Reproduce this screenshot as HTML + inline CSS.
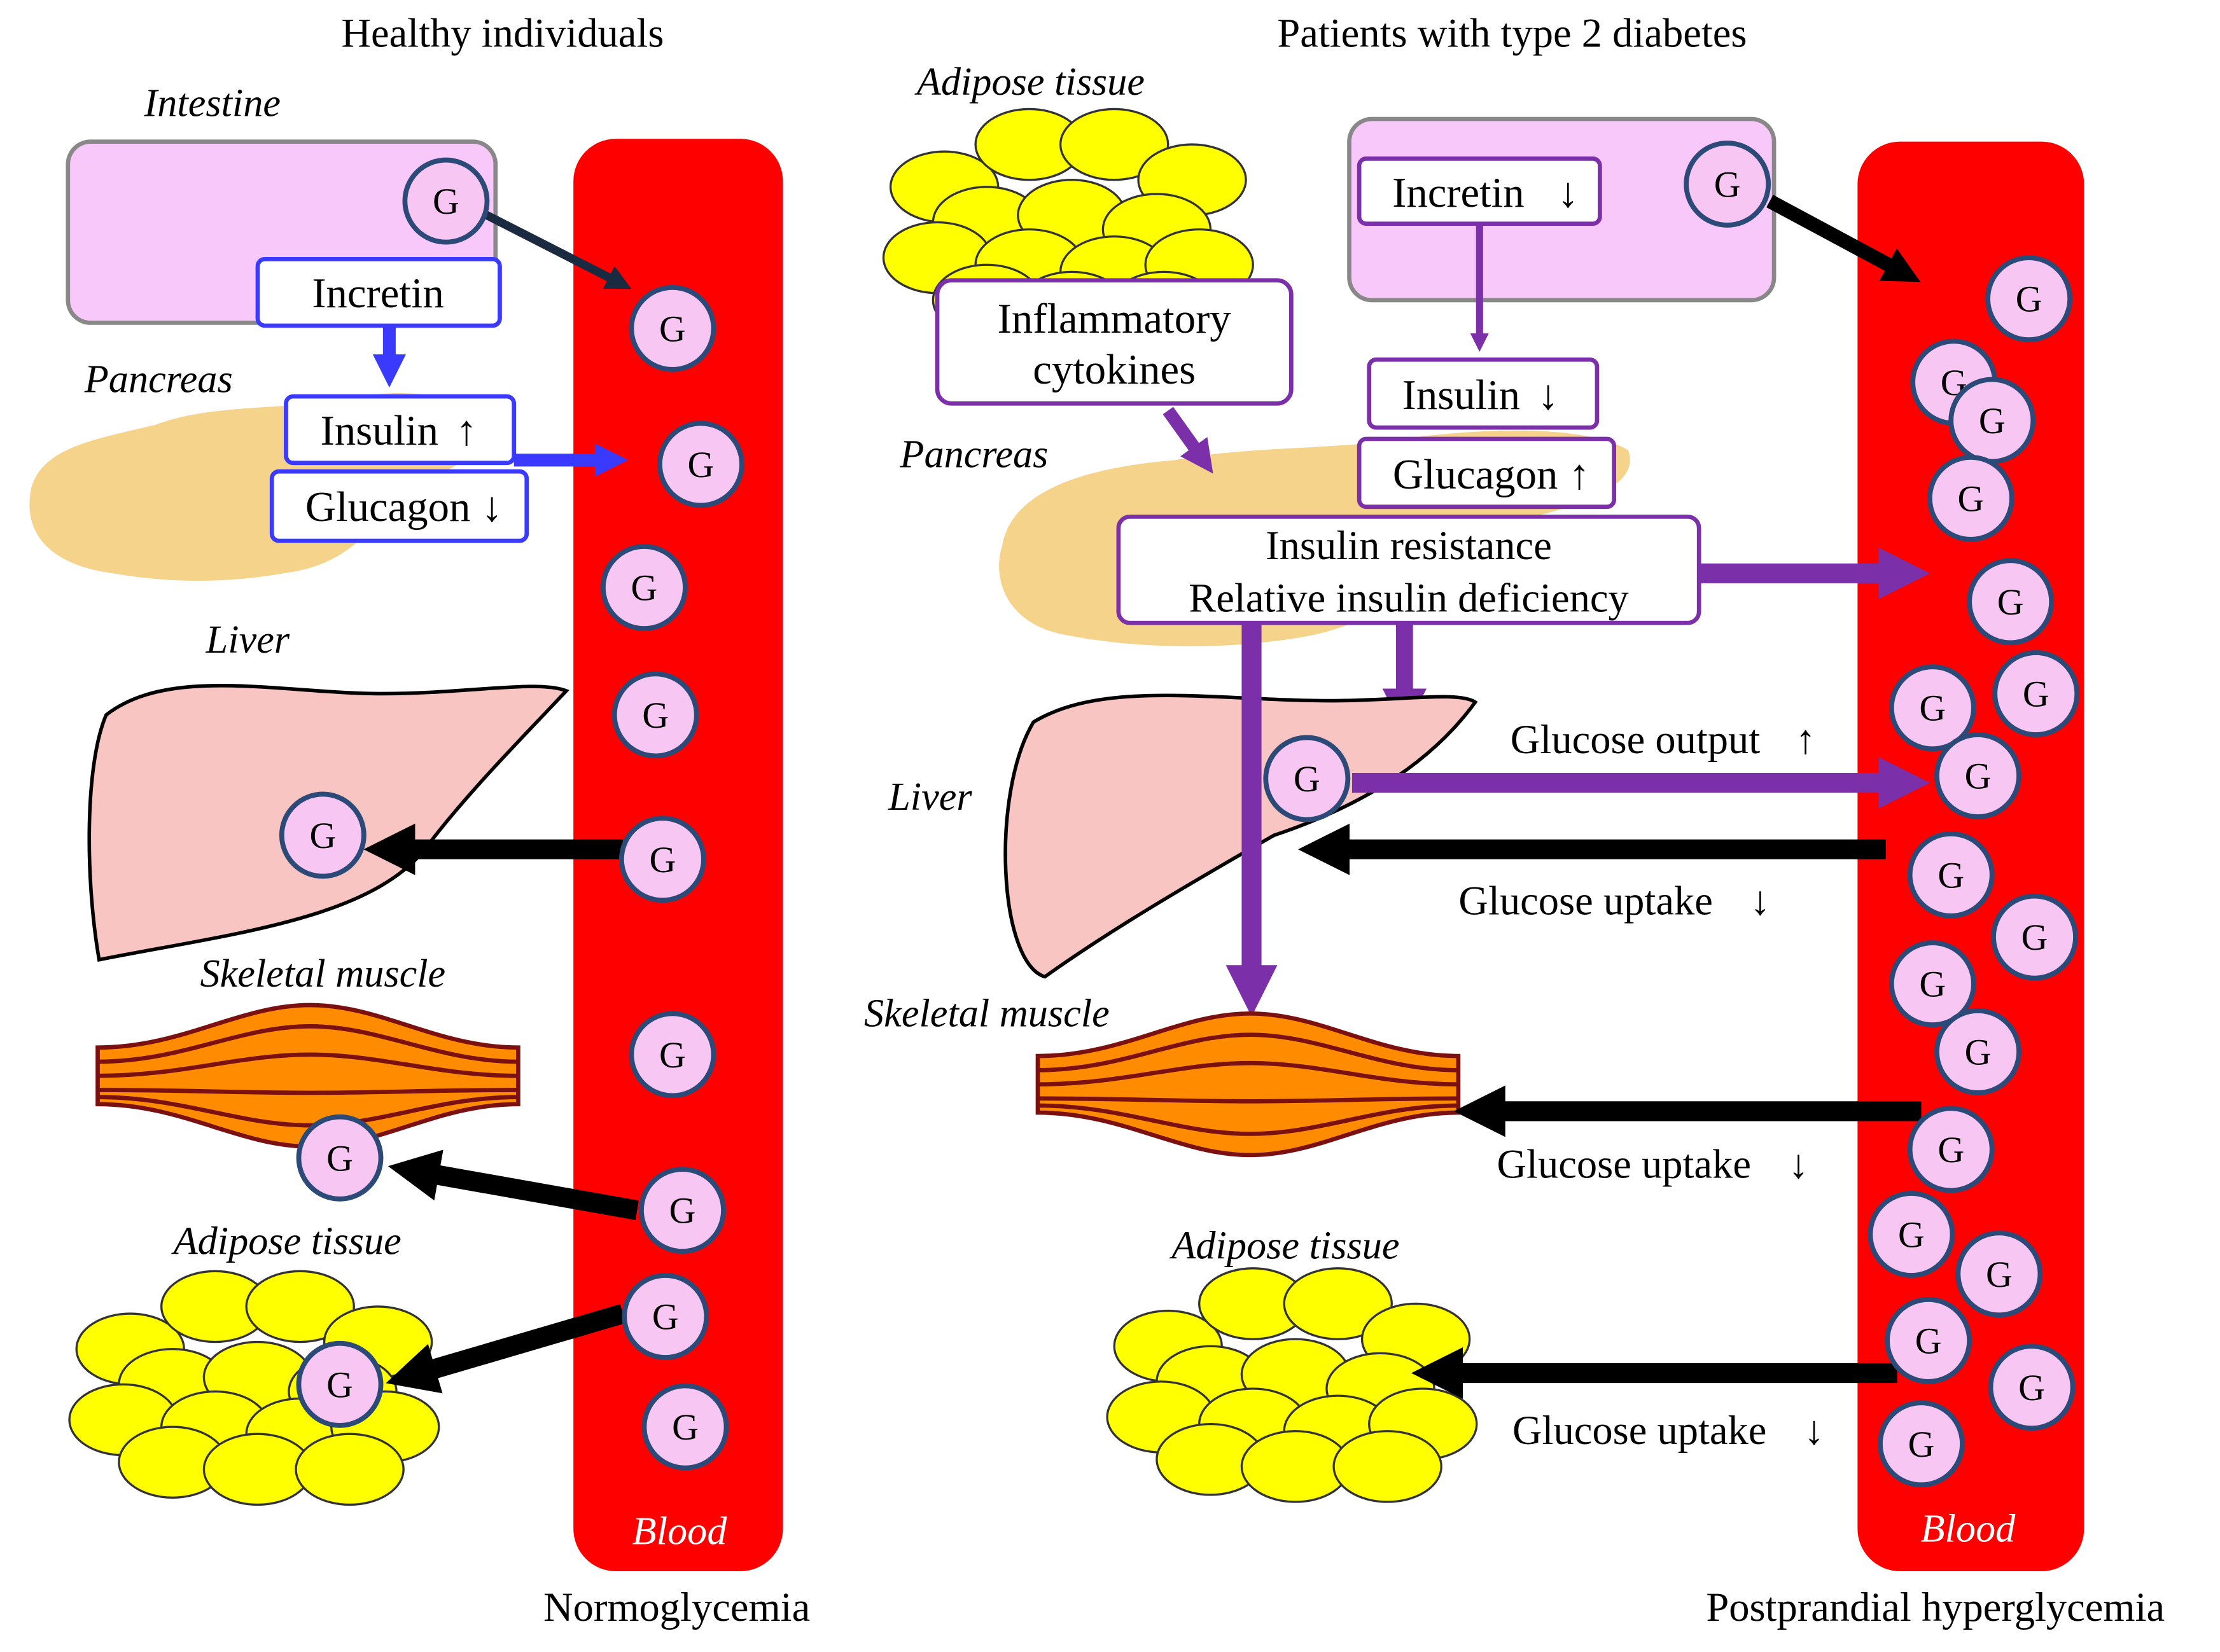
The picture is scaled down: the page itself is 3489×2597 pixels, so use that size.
<!DOCTYPE html>
<html><head><meta charset="utf-8"><style>html,body{margin:0;padding:0;background:#fff}svg{display:block}</style></head><body>
<svg width="3489" height="2597" viewBox="0 0 1568 1167" xmlns="http://www.w3.org/2000/svg" font-family="Liberation Serif, serif">
<defs>
<marker id="ab" viewBox="0 0 10 10" refX="5" refY="5" markerWidth="2.6" markerHeight="2.6" orient="auto"><path d="M0,0L10,5L0,10z" fill="#000"/></marker>
<marker id="abl" viewBox="0 0 10 10" refX="5" refY="5" markerWidth="2.6" markerHeight="2.6" orient="auto"><path d="M0,0L10,5L0,10z" fill="#3a3aff"/></marker>
<marker id="ap" viewBox="0 0 10 10" refX="5" refY="5" markerWidth="2.6" markerHeight="2.6" orient="auto"><path d="M0,0L10,5L0,10z" fill="#7b2fa8"/></marker>
<marker id="an" viewBox="0 0 10 10" refX="5" refY="5" markerWidth="3" markerHeight="3" orient="auto"><path d="M0,0L10,5L0,10z" fill="#1a2a40"/></marker>
<g id="g"><circle r="29" fill="#f7c6f3" stroke="#2b4a78" stroke-width="3.5"/><text y="9" text-anchor="middle" font-size="26">G</text></g>
<g id="fat" stroke="#333" stroke-width="1.5" fill="#ffff00">
<ellipse cx="40" cy="60" rx="38" ry="25"/><ellipse cx="100" cy="30" rx="38" ry="25"/><ellipse cx="160" cy="30" rx="38" ry="25"/><ellipse cx="215" cy="55" rx="38" ry="25"/>
<ellipse cx="70" cy="85" rx="38" ry="25"/><ellipse cx="130" cy="80" rx="38" ry="25"/><ellipse cx="190" cy="90" rx="38" ry="25"/>
<ellipse cx="35" cy="110" rx="38" ry="25"/><ellipse cx="100" cy="115" rx="38" ry="25"/><ellipse cx="160" cy="120" rx="38" ry="25"/><ellipse cx="220" cy="115" rx="38" ry="25"/>
<ellipse cx="70" cy="140" rx="38" ry="25"/><ellipse cx="130" cy="145" rx="38" ry="25"/><ellipse cx="195" cy="145" rx="38" ry="25"/>
</g>
<g id="mus">
<path d="M0,30 C60,30 100,0 150,0 C200,0 240,30 297,30 L297,70 C240,70 200,100 150,100 C100,100 60,70 0,70Z" fill="#ff8c00" stroke="#7a1010" stroke-width="3"/>
<g fill="none" stroke="#7a1010" stroke-width="3">
<path d="M0,40 C60,40 100,15 150,15 C200,15 240,40 297,40"/>
<path d="M0,50 C60,50 100,35 150,35 C200,35 240,50 297,50"/>
<path d="M0,60 C60,60 100,62 150,62 C200,62 240,60 297,60"/>
<path d="M0,65 C60,65 100,85 150,85 C200,85 240,65 297,65"/>
</g></g>
</defs>
<g font-size="29">
<text x="355" y="33" text-anchor="middle">Healthy individuals</text>
<text x="1068" y="33" text-anchor="middle">Patients with type 2 diabetes</text>
</g>
<!-- LEFT -->
<rect x="405" y="98" width="148" height="1012" rx="30" fill="#ff0000"/>
<text x="150" y="82" font-size="28" font-style="italic" text-anchor="middle">Intestine</text>
<rect x="48" y="100" width="302" height="128" rx="16" fill="#f9c8fa" stroke="#888" stroke-width="3"/>
<path d="M22,345 C30,315 70,310 110,300 C150,285 200,290 240,282 C290,272 335,280 345,300 C350,320 300,340 280,350 C260,380 240,400 200,405 C160,412 120,412 80,405 C40,400 15,380 22,345Z" fill="#f5d38a"/>
<text x="112" y="277" font-size="28" font-style="italic" text-anchor="middle">Pancreas</text>
<rect x="182" y="183" width="171" height="47" rx="5" fill="#fff" stroke="#3a3aff" stroke-width="3"/>
<text x="267" y="217" font-size="30" text-anchor="middle">Incretin</text>
<line x1="275" y1="230" x2="275" y2="262" stroke="#3a3aff" stroke-width="9" marker-end="url(#abl)"/>
<rect x="202" y="280" width="161" height="47" rx="5" fill="#fff" stroke="#3a3aff" stroke-width="3"/>
<text x="268" y="314" font-size="30" text-anchor="middle">Insulin</text>
<text x="322" y="314" font-size="30">↑</text>
<rect x="192" y="333" width="180" height="49" rx="5" fill="#fff" stroke="#3a3aff" stroke-width="3"/>
<text x="274" y="368" font-size="30" text-anchor="middle">Glucagon</text><text x="340" y="368" font-size="30">↓</text>
<line x1="363" y1="325" x2="432" y2="325" stroke="#3a3aff" stroke-width="9" marker-end="url(#abl)"/>
<line x1="340" y1="150" x2="438" y2="200" stroke="#1a2a40" stroke-width="6" marker-end="url(#an)"/>
<use href="#g" x="315" y="142"/>
<text x="175" y="461" font-size="28" font-style="italic" text-anchor="middle">Liver</text>
<path d="M75,505 C120,470 200,490 270,490 C330,490 380,480 400,488 C370,520 330,560 300,600 C260,650 160,660 70,678 C60,620 60,540 75,505Z" fill="#f9c5c2" stroke="#000" stroke-width="2.5"/>
<line x1="440" y1="600" x2="275" y2="600" stroke="#000" stroke-width="14" marker-end="url(#ab)"/>
<use href="#g" x="228" y="590"/>
<text x="228" y="697" font-size="28" font-style="italic" text-anchor="middle">Skeletal muscle</text>
<use href="#mus" x="69" y="710"/>
<line x1="450" y1="855" x2="292" y2="827" stroke="#000" stroke-width="14" marker-end="url(#ab)"/>
<use href="#g" x="240" y="818"/>
<text x="203" y="886" font-size="28" font-style="italic" text-anchor="middle">Adipose tissue</text>
<use href="#fat" x="52" y="893"/>
<line x1="440" y1="928" x2="290" y2="972" stroke="#000" stroke-width="14" marker-end="url(#ab)"/>
<use href="#g" x="240" y="978"/>
<use href="#g" x="475" y="232"/><use href="#g" x="495" y="328"/><use href="#g" x="455" y="415"/><use href="#g" x="463" y="505"/><use href="#g" x="468" y="607"/><use href="#g" x="475" y="745"/><use href="#g" x="482" y="855"/><use href="#g" x="470" y="930"/><use href="#g" x="484" y="1008"/>
<text x="480" y="1091" font-size="28" font-style="italic" fill="#fff" text-anchor="middle">Blood</text>
<text x="478" y="1145" font-size="29" text-anchor="middle">Normoglycemia</text>
<!-- RIGHT -->
<rect x="1312" y="100" width="160" height="1010" rx="30" fill="#ff0000"/>
<text x="728" y="67" font-size="28" font-style="italic" text-anchor="middle">Adipose tissue</text>
<use href="#fat" x="627" y="72"/>
<path d="M708,385 C715,345 770,330 830,325 C880,315 940,318 990,310 C1050,302 1120,300 1150,318 C1160,345 1110,360 1060,370 C1020,400 980,440 920,450 C860,460 800,458 750,448 C712,440 700,410 708,385Z" fill="#f5d38a"/>
<text x="688" y="330" font-size="28" font-style="italic" text-anchor="middle">Pancreas</text>
<rect x="662" y="198" width="250" height="87" rx="10" fill="#fff" stroke="#7b2fa8" stroke-width="3"/>
<text x="787" y="235" font-size="30" text-anchor="middle">Inflammatory</text>
<text x="787" y="271" font-size="30" text-anchor="middle">cytokines</text>
<line x1="825" y1="290" x2="850" y2="325" stroke="#7b2fa8" stroke-width="9" marker-end="url(#ap)"/>
<rect x="953" y="84" width="300" height="128" rx="16" fill="#f9c8fa" stroke="#888" stroke-width="3"/>
<rect x="960" y="112" width="170" height="46" rx="5" fill="#fff" stroke="#7b2fa8" stroke-width="3"/>
<text x="1030" y="146" font-size="30" text-anchor="middle">Incretin</text><text x="1100" y="146" font-size="30">↓</text>
<use href="#g" x="1220" y="130"/>
<line x1="1250" y1="142" x2="1345" y2="193" stroke="#000" stroke-width="10" marker-end="url(#ab)"/>
<line x1="1045" y1="158" x2="1045" y2="242" stroke="#7b2fa8" stroke-width="5" marker-end="url(#ap)"/>
<rect x="967" y="254" width="161" height="48" rx="5" fill="#fff" stroke="#7b2fa8" stroke-width="3"/>
<text x="1032" y="289" font-size="30" text-anchor="middle">Insulin</text><text x="1086" y="289" font-size="30">↓</text>
<rect x="960" y="310" width="180" height="48" rx="5" fill="#fff" stroke="#7b2fa8" stroke-width="3"/>
<text x="1042" y="345" font-size="30" text-anchor="middle">Glucagon</text><text x="1108" y="345" font-size="30">↑</text>
<rect x="790" y="365" width="410" height="75" rx="8" fill="#fff" stroke="#7b2fa8" stroke-width="3"/>
<text x="995" y="395" font-size="29" text-anchor="middle">Insulin resistance</text>
<text x="995" y="432" font-size="29" text-anchor="middle">Relative insulin deficiency</text>
<line x1="1200" y1="405" x2="1345" y2="405" stroke="#7b2fa8" stroke-width="14" marker-end="url(#ap)"/>
<line x1="992" y1="440" x2="992" y2="502" stroke="#7b2fa8" stroke-width="12" marker-end="url(#ap)"/>
<path d="M730,510 C780,480 860,495 940,495 C990,495 1030,488 1042,496 C1010,540 960,570 900,590 C830,630 780,660 738,690 C705,680 700,560 730,510Z" fill="#f9c5c2" stroke="#000" stroke-width="2.5"/>
<line x1="884" y1="440" x2="884" y2="700" stroke="#7b2fa8" stroke-width="14" marker-end="url(#ap)"/>
<text x="657" y="572" font-size="28" font-style="italic" text-anchor="middle">Liver</text>
<line x1="955" y1="553" x2="1345" y2="553" stroke="#7b2fa8" stroke-width="14" marker-end="url(#ap)"/>
<use href="#g" x="923" y="550"/>
<text x="1155" y="532" font-size="29" text-anchor="middle">Glucose output</text><text x="1268" y="532" font-size="29">↑</text>
<line x1="1332" y1="600" x2="935" y2="600" stroke="#000" stroke-width="14" marker-end="url(#ab)"/>
<text x="1120" y="646" font-size="29" text-anchor="middle">Glucose uptake</text><text x="1236" y="646" font-size="29">↓</text>
<text x="697" y="725" font-size="28" font-style="italic" text-anchor="middle">Skeletal muscle</text>
<use href="#mus" x="733" y="716"/>
<line x1="1357" y1="785" x2="1045" y2="785" stroke="#000" stroke-width="14" marker-end="url(#ab)"/>
<text x="1147" y="832" font-size="29" text-anchor="middle">Glucose uptake</text><text x="1263" y="832" font-size="29">↓</text>
<text x="908" y="889" font-size="28" font-style="italic" text-anchor="middle">Adipose tissue</text>
<use href="#fat" x="785" y="891"/>
<line x1="1340" y1="970" x2="1015" y2="970" stroke="#000" stroke-width="14" marker-end="url(#ab)"/>
<text x="1158" y="1020" font-size="29" text-anchor="middle">Glucose uptake</text><text x="1274" y="1020" font-size="29">↓</text>
<use href="#g" x="1433" y="211"/><use href="#g" x="1380" y="270"/><use href="#g" x="1407" y="297"/><use href="#g" x="1392" y="352"/><use href="#g" x="1420" y="425"/><use href="#g" x="1438" y="490"/><use href="#g" x="1365" y="500"/><use href="#g" x="1397" y="548"/><use href="#g" x="1378" y="618"/><use href="#g" x="1437" y="662"/><use href="#g" x="1365" y="695"/><use href="#g" x="1397" y="743"/><use href="#g" x="1378" y="812"/><use href="#g" x="1350" y="872"/><use href="#g" x="1412" y="900"/><use href="#g" x="1362" y="947"/><use href="#g" x="1435" y="980"/><use href="#g" x="1357" y="1020"/>
<text x="1390" y="1089" font-size="28" font-style="italic" fill="#fff" text-anchor="middle">Blood</text>
<text x="1367" y="1145" font-size="29" text-anchor="middle">Postprandial hyperglycemia</text>
</svg>
</body></html>
